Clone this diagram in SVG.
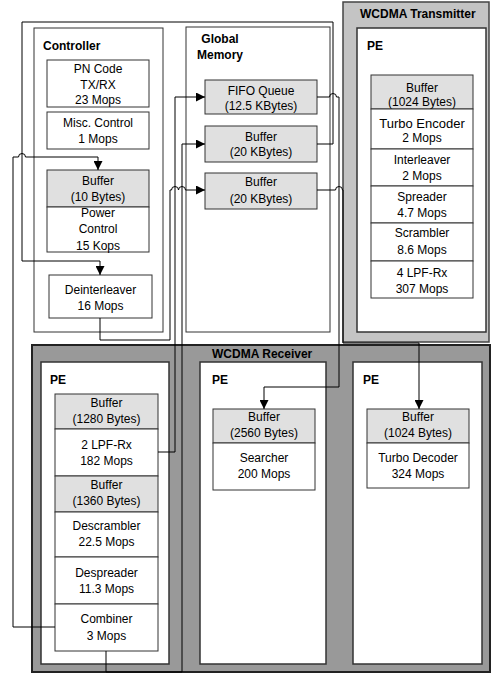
<svg xmlns="http://www.w3.org/2000/svg" width="491" height="674" viewBox="0 0 491 674">
<style>
text{font-family:"Liberation Sans",Arial,sans-serif;font-size:12px;fill:#000}
.c{text-anchor:middle}
.b{font-weight:bold}
.box{fill:#fff;stroke:#333;stroke-width:1}
.buf{fill:#e0e0e0;stroke:#333;stroke-width:1}
.pe{fill:#fff;stroke:#333;stroke-width:1.5}
.wire{fill:none;stroke:#000;stroke-width:1}
</style>
<defs>
<marker id="ah" viewBox="0 0 10 10" refX="10" refY="5" markerWidth="9" markerHeight="9" markerUnits="userSpaceOnUse" orient="auto">
<path d="M0,0 L10,5 L0,10 z" fill="#000"/>
</marker>
</defs>
<rect width="491" height="674" fill="#fff"/>

<g id="transmitter">
<rect x="343" y="2" width="146" height="340" fill="#c4c4c4" stroke="#444" stroke-width="1.5"/>
<text x="360" y="18" class="b">WCDMA Transmitter</text>
<rect x="357" y="28" width="129" height="304" class="pe"/>
<text x="367" y="50" class="b">PE</text>
<rect x="371" y="75" width="102" height="34" class="buf"/>
<text x="422" y="92" class="c">Buffer</text>
<text x="422" y="106" class="c">(1024 Bytes)</text>
<rect x="371" y="109" width="102" height="40" class="box"/>
<text x="422" y="128" class="c" style="font-size:13px">Turbo Encoder</text>
<text x="422" y="142" class="c">2 Mops</text>
<rect x="371" y="149" width="102" height="37" class="box"/>
<text x="422" y="164" class="c">Interleaver</text>
<text x="422" y="180" class="c">2 Mops</text>
<rect x="371" y="186" width="102" height="37" class="box"/>
<text x="422" y="201" class="c">Spreader</text>
<text x="422" y="217" class="c">4.7 Mops</text>
<rect x="371" y="223" width="102" height="38" class="box"/>
<text x="422" y="237" class="c">Scrambler</text>
<text x="422" y="254" class="c">8.6 Mops</text>
<rect x="371" y="261" width="102" height="37" class="box"/>
<text x="422" y="277" class="c">4 LPF-Rx</text>
<text x="422" y="293" class="c">307 Mops</text>
</g>

<g id="receiver">
<rect x="32" y="345" width="458" height="327" fill="#999" stroke="#222" stroke-width="2"/>
<text x="212" y="358" class="b">WCDMA Receiver</text>
</g>

<g id="pe1">
<rect x="41" y="362" width="128" height="302" class="pe"/>
<text x="50" y="384" class="b">PE</text>
<rect x="55" y="394" width="103" height="35" class="buf"/>
<text x="106.5" y="407" class="c">Buffer</text>
<text x="106.5" y="423" class="c">(1280 Bytes)</text>
<rect x="55" y="429" width="103" height="47" class="box"/>
<text x="106.5" y="449" class="c">2 LPF-Rx</text>
<text x="106.5" y="465" class="c">182 Mops</text>
<rect x="55" y="476" width="103" height="36" class="buf"/>
<text x="106.5" y="489" class="c">Buffer</text>
<text x="106.5" y="505" class="c">(1360 Bytes)</text>
<rect x="55" y="512" width="103" height="45" class="box"/>
<text x="106.5" y="530" class="c">Descrambler</text>
<text x="106.5" y="546" class="c">22.5 Mops</text>
<rect x="55" y="557" width="103" height="47" class="box"/>
<text x="106.5" y="577" class="c">Despreader</text>
<text x="106.5" y="593" class="c">11.3 Mops</text>
<rect x="55" y="604" width="103" height="47" class="box"/>
<text x="106.5" y="623" class="c">Combiner</text>
<text x="106.5" y="640" class="c">3 Mops</text>
</g>

<g id="pe2">
<rect x="200" y="362" width="126" height="302" class="pe"/>
<text x="212" y="384" class="b">PE</text>
<rect x="213" y="409" width="102" height="34" class="buf"/>
<text x="264" y="421" class="c">Buffer</text>
<text x="264" y="437" class="c">(2560 Bytes)</text>
<rect x="213" y="443" width="102" height="47" class="box"/>
<text x="264" y="462" class="c">Searcher</text>
<text x="264" y="478" class="c">200 Mops</text>
</g>

<g id="pe3">
<rect x="353" y="362" width="129" height="302" class="pe"/>
<text x="363" y="384" class="b">PE</text>
<rect x="367" y="409" width="102" height="34" class="buf"/>
<text x="418" y="421" class="c">Buffer</text>
<text x="418" y="437" class="c">(1024 Bytes)</text>
<rect x="367" y="443" width="102" height="45" class="box"/>
<text x="418" y="462" class="c">Turbo Decoder</text>
<text x="418" y="478" class="c">324 Mops</text>
</g>

<g id="controller">
<rect x="34" y="28" width="129" height="304" class="box"/>
<text x="43" y="50" class="b">Controller</text>
<rect x="47" y="60" width="102" height="47" class="box"/>
<text x="98" y="73" class="c">PN Code</text>
<text x="98" y="89" class="c">TX/RX</text>
<text x="98" y="104" class="c">23 Mops</text>
<rect x="47" y="112" width="102" height="37" class="box"/>
<text x="98" y="127" class="c">Misc. Control</text>
<text x="98" y="143" class="c">1 Mops</text>
<rect x="47" y="170" width="102" height="37" class="buf"/>
<text x="98" y="185" class="c">Buffer</text>
<text x="98" y="201" class="c">(10 Bytes)</text>
<rect x="47" y="207" width="102" height="45" class="box"/>
<text x="98" y="217" class="c">Power</text>
<text x="98" y="233" class="c">Control</text>
<text x="98" y="250" class="c">15 Kops</text>
<rect x="49" y="275" width="103" height="43" class="box"/>
<text x="100.5" y="294" class="c">Deinterleaver</text>
<text x="100.5" y="310" class="c">16 Mops</text>
</g>

<g id="global-memory">
<rect x="186" y="27" width="144" height="305" class="box"/>
<text x="220" y="43" class="c b">Global</text>
<text x="220" y="59" class="c b">Memory</text>
<rect x="205" y="80" width="112" height="34" class="buf"/>
<text x="261" y="95" class="c">FIFO Queue</text>
<text x="261" y="110" class="c">(12.5 KBytes)</text>
<rect x="205" y="126" width="112" height="36" class="buf"/>
<text x="261" y="141" class="c">Buffer</text>
<text x="261" y="156" class="c">(20 KBytes)</text>
<rect x="205" y="173" width="112" height="36" class="buf"/>
<text x="261" y="186" class="c">Buffer</text>
<text x="261" y="203" class="c">(20 KBytes)</text>
</g>

<g id="connectors">
<!-- Combiner -> Power Control buffer -->
<path class="wire" marker-end="url(#ah)" d="M55,627 H13 V157 H18.5 A3.5,3.5 0 0 1 25.5,157 H98 V170"/>
<!-- Buffer 20KB (1) -> Deinterleaver -->
<path class="wire" marker-end="url(#ah)" d="M317,144 H333 V22 H22 V261 H100 V275"/>
<!-- FIFO -> Searcher -->
<path class="wire" marker-end="url(#ah)" d="M317,97 H329.5 A3.5,3.5 0 0 1 336.5,97 H339 V387 H264 V409"/>
<!-- Buffer 20KB (2) -> Turbo Decoder -->
<path class="wire" marker-end="url(#ah)" d="M317,190 H335.5 A3.5,3.5 0 0 1 342.5,190 H343 V343 H419 V409"/>
<!-- 2 LPF-Rx -> FIFO -->
<path class="wire" marker-end="url(#ah)" d="M158,452 H175 V97 H205"/>
<!-- Combiner -> Buffer 20KB (1) -->
<path class="wire" marker-end="url(#ah)" d="M106,651 V672 H182 V144 H205"/>
<!-- Deinterleaver -> Buffer 20KB (2) -->
<path class="wire" marker-end="url(#ah)" d="M100,318 V340 H170 V190 H171.5 A3.5,3.5 0 0 1 178.5,190 H178.5 A3.5,3.5 0 0 1 185.5,190 H205"/>
</g>
</svg>
